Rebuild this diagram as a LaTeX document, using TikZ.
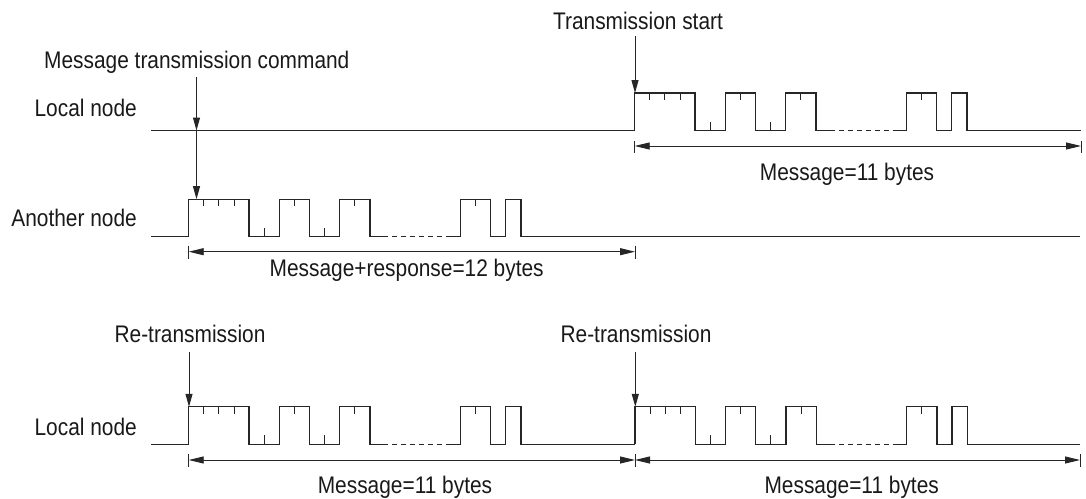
\documentclass[tikz,border=0pt]{standalone}
\usepackage{fontspec}
\setmainfont{Liberation Sans}[FakeStretch=0.87]
\usetikzlibrary{arrows.meta}
\tikzset{
  wave/.style={line width=1.25pt, draw=black!85, line join=miter},
  wtick/.style={line width=1pt, draw=black!85},
  varr/.style={line width=1pt, draw=black!85, -{Triangle[length=13pt,width=7pt]}},
  dimarr/.style={line width=0.9pt, draw=black!85, {Triangle[length=15pt,width=7pt]}-{Triangle[length=15pt,width=7pt]}},
  dimtick/.style={line width=0.9pt, draw=black!85},
  lbl/.style={font=\fontsize{24}{28}\selectfont, text=black!90, inner sep=0pt, anchor=base},
}
% #1 lead start x, #2 rise x, #3 baseline y, #4 tail end x (all in px)
\newcommand\mywave[4]{%
 \begin{scope}[shift={(#2,#3)}, x=15.1pt, y=-1pt]
   \pgfmathsetmacro\wlead{(#1-#2)/15.1}
   \pgfmathsetmacro\wtail{(#4-#2)/15.1}
   \draw[wave] (\wlead,0) -- (0,0) -- (0,-37.5) -- (4,-37.5) -- (4,0) -- (6,0) -- (6,-37.5) -- (8,-37.5) -- (8,0)
      -- (10,0) -- (10,-37.5) -- (12,-37.5) -- (12,0) -- (12.9,0);
   \draw[wave, dash pattern=on 5pt off 4pt] (12.9,0) -- (17.1,0);
   \draw[wave] (17.1,0) -- (18,0) -- (18,-37.5) -- (20,-37.5) -- (20,0) -- (21,0) -- (21,-37.5) -- (22,-37.5) -- (22,0) -- (\wtail,0);
   \foreach \t in {1,2,3,7,11,19} \draw[wtick] (\t,-37.5) -- (\t,-30.5);
   \foreach \t in {5,9} \draw[wtick] (\t,0) -- (\t,-9);
 \end{scope}}
\begin{document}
\begin{tikzpicture}[x=1pt,y=-1pt]
\useasboundingbox (0,0) rectangle (1086,498);

% ---- waveforms
\mywave{151}{634.7}{130.5}{1081}
\mywave{151}{188.7}{236.7}{1080}
\mywave{151}{188.7}{444.3}{635}
\mywave{635}{635}{444.3}{1080}

% ---- labels
\node[lbl] (cmd) at (196.8,68.3) {Message transmission command};
\node[lbl] (tstart) at (638,29) {Transmission start};
\node[lbl, anchor=base east] (loc1) at (137,116.7) {Local node};
\node[lbl, anchor=base east] (anoth) at (137,226) {Another node};
\node[lbl, anchor=base east] (loc2) at (137,435) {Local node};
\node[lbl] (m11a) at (847,180) {Message=11 bytes};
\node[lbl] (m12) at (406.7,276.7) {Message+response=12 bytes};
\node[lbl] (rt1) at (190,342.5) {Re-transmission};
\node[lbl] (rt2) at (636,342.5) {Re-transmission};
\node[lbl] (m11b) at (405,493.3) {Message=11 bytes};
\node[lbl] (m11c) at (851.7,493.3) {Message=11 bytes};

% ---- vertical arrows
\coordinate (c0) at (196.5,77);
\coordinate (c1) at (196.5,130.5);
\coordinate (c2) at (196.5,199.2);
\draw[varr] (c0) -- (c1);
\draw[varr] (c1) -- (c2);
\coordinate (s0) at (635,36);
\coordinate (s1) at (635,93);
\draw[varr] (s0) -- (s1);
\coordinate (r0) at (189,351.7);
\coordinate (r1) at (189,406.8);
\draw[varr] (r0) -- (r1);
\coordinate (q0) at (635.3,351.7);
\coordinate (q1) at (635.3,406.8);
\draw[varr] (q0) -- (q1);

% ---- dimension lines
\coordinate (d1a) at (634.7,146);
\coordinate (d1b) at (1081,146);
\draw[dimarr] (d1a) -- (d1b);
\foreach \p in {d1a,d1b} \draw[dimtick] ([yshift=5pt]\p) -- ([yshift=-7pt]\p);

\coordinate (d2a) at (188.7,251.7);
\coordinate (d2b) at (635,251.7);
\draw[dimarr] (d2a) -- (d2b);
\foreach \p in {d2a,d2b} \draw[dimtick] ([yshift=6pt]\p) -- ([yshift=-7pt]\p);

\coordinate (d3a) at (188.7,460);
\coordinate (d3b) at (635,460);
\coordinate (d3c) at (1080,460);
\draw[dimarr] (d3a) -- (d3b);
\draw[dimarr] (d3b) -- (d3c);
\foreach \p in {d3a,d3b,d3c} \draw[dimtick] ([yshift=6pt]\p) -- ([yshift=-7pt]\p);
\end{tikzpicture}
\end{document}
